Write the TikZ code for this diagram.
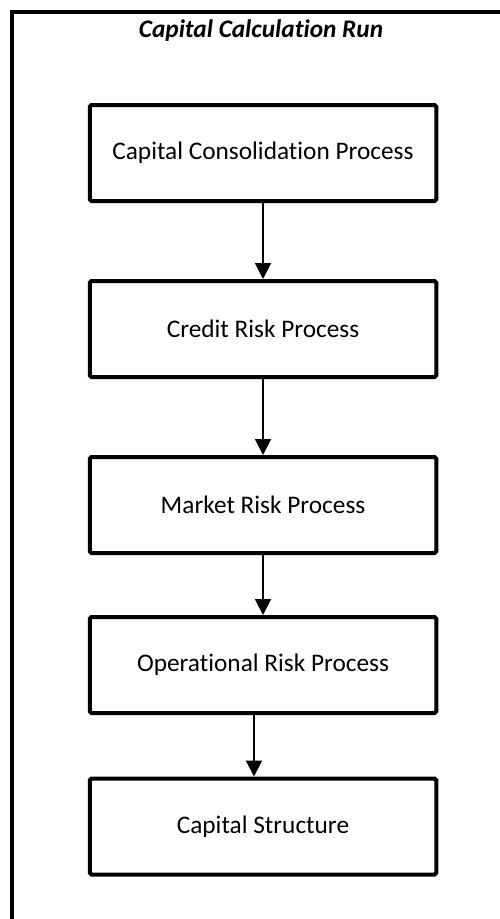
\documentclass[tikz,border=0pt]{standalone}
\usepackage{fontspec}
\setmainfont{Carlito}[Ligatures=NoCommon]
\usepackage{tikz}
\usetikzlibrary{positioning,arrows.meta}

\begin{document}
\begin{tikzpicture}[
		process/.style={draw, line width=0.08cm, rounded corners=1pt, minimum width=6.93cm, minimum height=1.92cm, font=\fontsize{14.4}{17}\selectfont},
		flow/.style={line width=0.04cm, -{Triangle[length=0.32cm, width=0.32cm]}}]
	
	\useasboundingbox (0,0) rectangle (9.98,-18.38);
	
	% Outer frame and title
	\draw[line width=0.08cm] (10.2,-0.24) -- (0.24,-0.24) -- (0.24,-18.6);
	\node[font=\fontsize{14.4}{17}\selectfont\bfseries\itshape] (title) at (5.22,-0.62) {Capital Calculation Run};
	
	% Process boxes
	\node[process] (p1) at (5.26,-3.06) {Capital Consolidation Process};
	\node[process] (p2) at (5.26,-6.58) {Credit Risk Process};
	\node[process] (p3) at (5.26,-10.10) {Market Risk Process};
	\node[process] (p4) at (5.26,-13.30) {Operational Risk Process};
	\node[process] (p5) at (5.26,-16.53) {Capital Structure};
	
	% Arrows
	\draw[flow] (p1) -- (p2);
	\draw[flow] (p2) -- (p3);
	\draw[flow] (p3) -- (p4);
	\draw[flow] ([xshift=-0.18cm]p4.south) -- ([xshift=-0.18cm]p5.north);
	
\end{tikzpicture}
\end{document}
